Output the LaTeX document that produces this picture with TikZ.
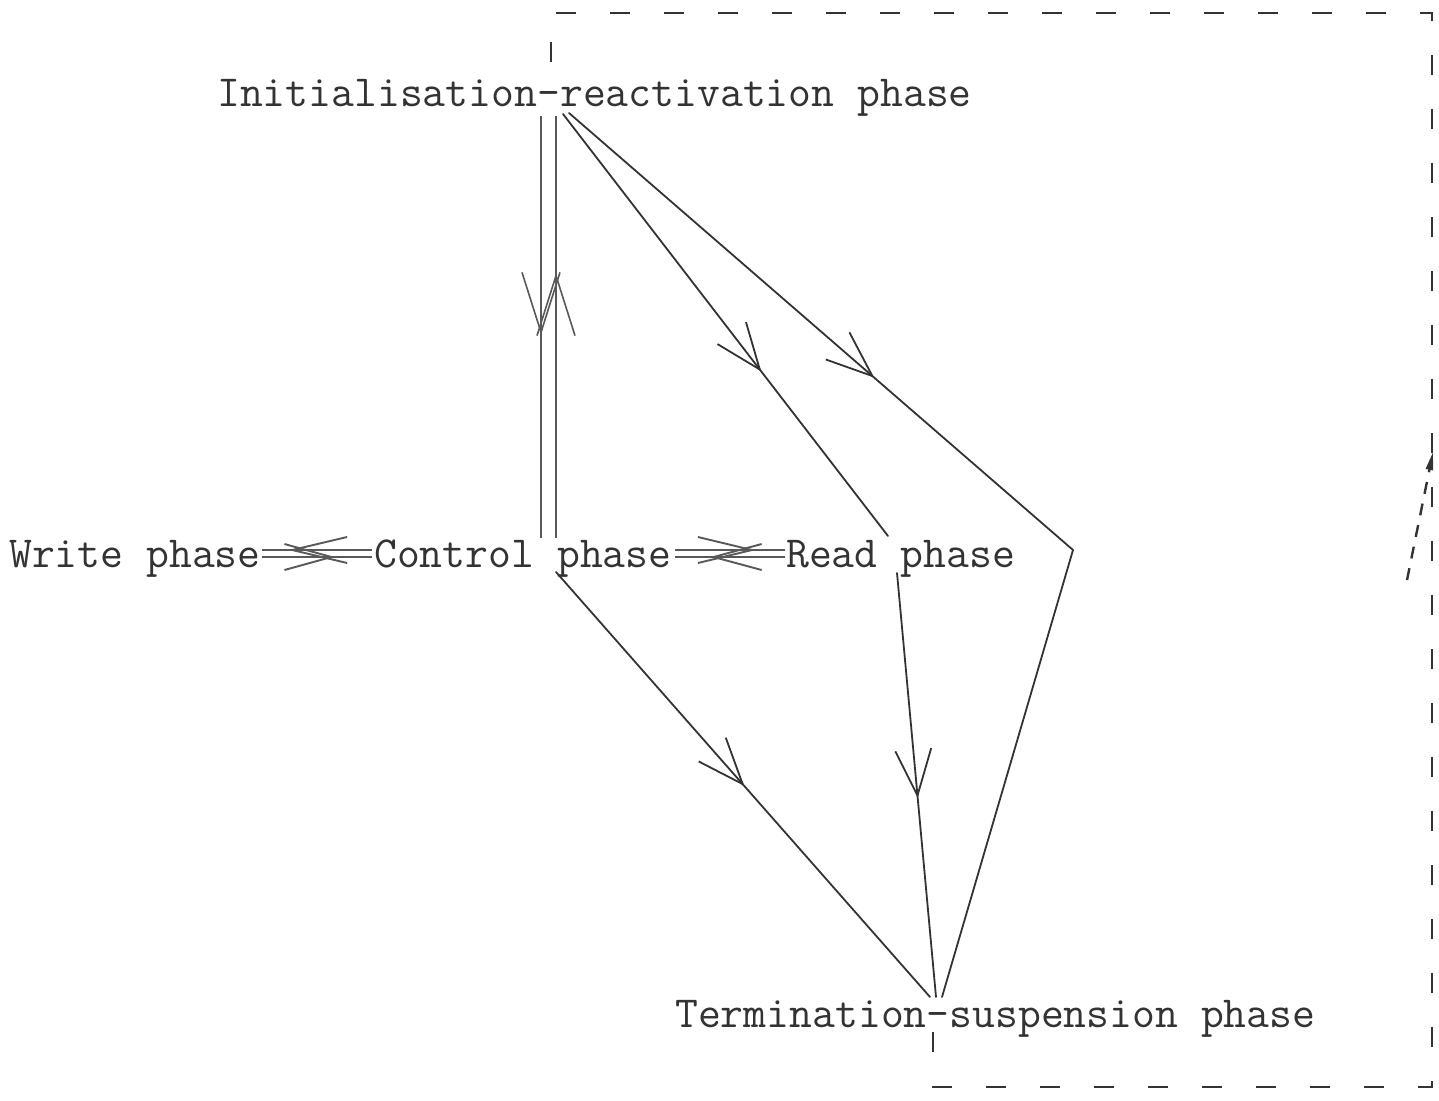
\documentclass[tikz,border=0pt]{standalone}
\usetikzlibrary{arrows.meta,decorations.markings}
\tikzset{
  lbl/.style={font=\fontsize{44.4}{52}\selectfont\ttfamily, text=black!80, inner sep=0pt, anchor=base west},
  conn/.style={draw=black!80, line width=1.8pt, line cap=round},
  pairline/.style={draw=black!65, line width=1.3pt},
  barb/.style={postaction={decorate, decoration={markings, mark=at position #1 with {\arrow{Straight Barb[length=46pt,width=36pt,line width=1.8pt]}}}}},
  vbarb/.style={postaction={decorate, decoration={markings, mark=at position #1 with {\arrow{Straight Barb[length=60pt,width=38pt,line width=1.6pt]}}}}},
  hbarb/.style 2 args={postaction={decorate, decoration={markings, mark=at position #1 with {\arrow{Straight Barb[length=#2,width=26pt,line width=1.9pt]}}}}},
  loopdash/.style={draw=black!80, line width=2.2pt, dash pattern=on 20pt off 34pt},
  dirdash/.style={draw=black!80, line width=2.4pt, dash pattern=on 12pt off 10pt, -{Triangle[length=18pt,width=7pt]}},
}
\begin{document}
\begin{tikzpicture}[x=1pt,y=-1pt]
\useasboundingbox (0,0) rectangle (1439,1100);
\fill[white] (0,0) rectangle (1439,1100);

% nodes
\node[lbl] (init) at (217,106) {Initialisation-reactivation phase};
\node[lbl] (write) at (9,567) {Write phase};
\node[lbl] (ctrl) at (374,567) {Control phase};
\node[lbl] (read) at (786,567) {Read phase};
\node[lbl] (term) at (675,1027) {Termination-suspension phase};

% attachment points
\coordinate (iV1) at (541,116);
\coordinate (cV1) at (541,538);
\coordinate (iV2) at (556,116);
\coordinate (cV2) at (556,538);
\coordinate (iA) at (563,114);
\coordinate (rA) at (888,536);
\coordinate (iB) at (569,113);
\coordinate (bend) at (1073,550);
\coordinate (tB) at (942,997);
\coordinate (cC) at (556,572);
\coordinate (tC) at (930,997);
\coordinate (rD) at (897,573);
\coordinate (tD) at (936,997);
\coordinate (cW1) at (372,550);
\coordinate (wW1) at (262,550);
\coordinate (cW2) at (372,557);
\coordinate (wW2) at (262,557);
\coordinate (cR1) at (675,550);
\coordinate (rR1) at (785,550);
\coordinate (cR2) at (675,557);
\coordinate (rR2) at (785,557);

% init <-> control
\draw[pairline, vbarb=219pt] (iV1) -- (cV1);
\draw[pairline, vbarb=265pt] (cV2) -- (iV2);

% control <-> write / read
\draw[pairline, hbarb={84pt}{55pt}] (cW1) -- (wW1);
\draw[pairline, hbarb={73pt}{47pt}] (wW2) -- (cW2);
\draw[pairline, hbarb={81pt}{54pt}] (cR1) -- (rR1);
\draw[pairline, hbarb={75pt}{48pt}] (rR2) -- (cR2);

% diagonals
\draw[conn, barb=325pt] (iA) -- (rA);
\draw[conn, barb=404pt] (iB) -- (bend) -- (tB);
\draw[conn, barb=285pt] (cC) -- (tC);
\draw[conn, barb=226pt] (rD) -- (tD);

% dashed loop
\coordinate (tLoop) at (933,1032);
\coordinate (iLoop) at (551,74);
\draw[loopdash] (tLoop) |- (1432,1087) |- (551,13) -- (iLoop);

% direction indicator
\coordinate (dA) at (1407,580);
\coordinate (dB) at (1433,452);
\draw[dirdash] (dA) -- (dB);
\end{tikzpicture}
\end{document}
